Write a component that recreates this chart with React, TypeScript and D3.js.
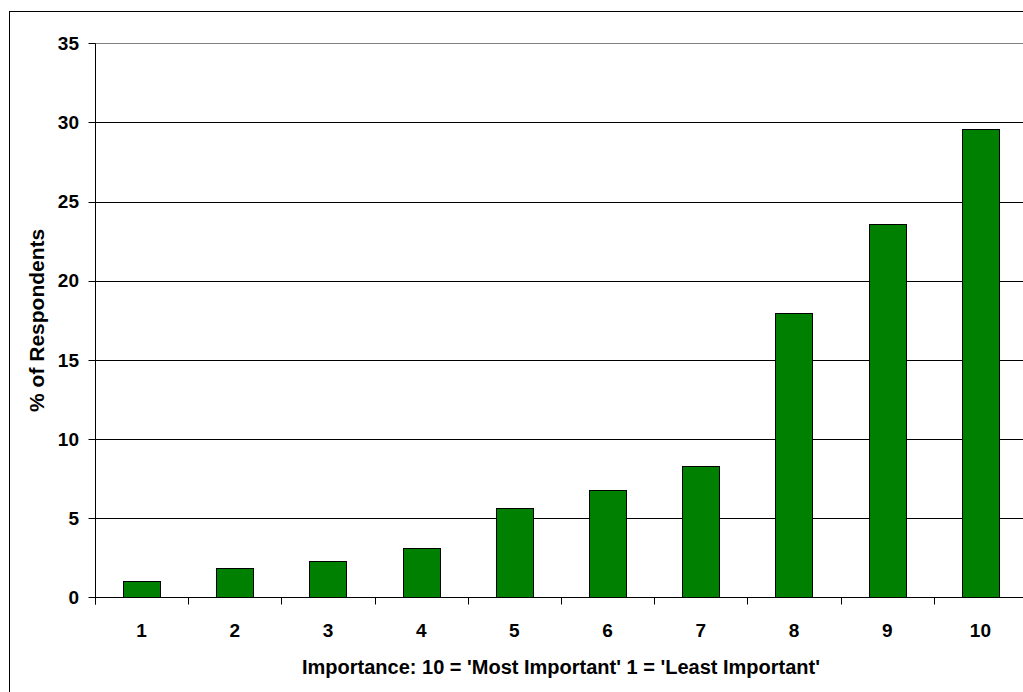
import React from "react";
import * as d3 from "d3";

// Survey importance ratings (1 = least important, 10 = most important)
const categories: string[] = ["1", "2", "3", "4", "5", "6", "7", "8", "9", "10"];
const percentRespondents: number[] = [1.05, 1.83, 2.29, 3.13, 5.64, 6.78, 8.31, 17.94, 23.56, 29.56];
const yTickValues: number[] = [0, 5, 10, 15, 20, 25, 30, 35];

const yAxisTitle = "% of Respondents";
const xAxisTitle = "Importance: 10 = 'Most Important' 1 = 'Least Important'";

const WIDTH = 1023;
const HEIGHT = 692;
const FONT = "'Liberation Sans', Arial, Helvetica, sans-serif";

export default function App() {
  const plotLeft = 95;
  const plotRight = 1027;
  const plotTop = 43.3;
  const plotBottom = 597.3;

  const x = d3
    .scaleBand<string>()
    .domain(categories)
    .range([plotLeft, plotRight])
    .paddingInner(0.6)
    .paddingOuter(0.3);

  const y = d3.scaleLinear().domain([0, 35]).range([plotBottom, plotTop]);

  const step = x.step();
  const snap = (v: number) => Math.round(v) + 0.5;

  // category boundaries for the x-axis tick marks
  const boundaries = d3.range(categories.length + 1).map((i) => plotLeft + i * step);

  const axisY = snap(y(0));
  const axisX = snap(plotLeft);

  return (
    <svg
      width={WIDTH}
      height={HEIGHT}
      style={{ position: "absolute", left: 0, top: 0, background: "#fff" }}
      fontFamily={FONT}
    >
      {/* chart area border */}
      <rect x={9.5} y={11.5} width={WIDTH + 20} height={HEIGHT + 20} fill="#fff" stroke="#000" strokeWidth={1} />

      {/* horizontal gridlines */}
      {yTickValues.map((v) =>
        v === 0 ? null : (
          <line
            key={`g${v}`}
            x1={plotLeft}
            x2={WIDTH}
            y1={snap(y(v))}
            y2={snap(y(v))}
            stroke={v === 35 ? "#808080" : "#000"}
            strokeWidth={1}
          />
        )
      )}

      {/* bars */}
      {categories.map((c, i) => {
        const top = y(percentRespondents[i]);
        return (
          <rect
            key={`b${c}`}
            x={Math.round(x(c) as number) + 0.5}
            y={Math.round(top) + 0.5}
            width={Math.round(x.bandwidth())}
            height={Math.round(y(0)) - Math.round(top)}
            fill="#008000"
            stroke="#000"
            strokeWidth={1}
          />
        );
      })}

      {/* y axis */}
      <line x1={axisX} x2={axisX} y1={snap(plotTop)} y2={axisY + 7} stroke="#000" strokeWidth={1} />
      {yTickValues.map((v) => (
        <g key={`yt${v}`}>
          <line x1={axisX - 7} x2={axisX} y1={snap(y(v))} y2={snap(y(v))} stroke="#000" strokeWidth={1} />
          <text
            x={79}
            y={y(v)}
            dy="0.35em"
            textAnchor="end"
            fontSize={19}
            fontWeight="bold"
            fill="#000"
          >
            {v}
          </text>
        </g>
      ))}

      {/* x axis */}
      <line x1={plotLeft} x2={WIDTH} y1={axisY} y2={axisY} stroke="#000" strokeWidth={1} />
      {boundaries.map((b, i) => (
        <line key={`xt${i}`} x1={snap(b)} x2={snap(b)} y1={axisY} y2={axisY + 7} stroke="#000" strokeWidth={1} />
      ))}
      {categories.map((c) => (
        <text
          key={`xl${c}`}
          x={(x(c) as number) + x.bandwidth() / 2}
          y={637}
          textAnchor="middle"
          fontSize={19}
          fontWeight="bold"
          fill="#000"
        >
          {c}
        </text>
      ))}

      {/* axis titles */}
      <text
        transform={`translate(44, ${(plotTop + plotBottom) / 2 + 0}) rotate(-90)`}
        textAnchor="middle"
        fontSize={21}
        fontWeight="bold"
        fill="#000"
      >
        {yAxisTitle}
      </text>
      <text
        x={(plotLeft + plotRight) / 2}
        y={674}
        textAnchor="middle"
        fontSize={20}
        fontWeight="bold"
        fill="#000"
      >
        {xAxisTitle}
      </text>
    </svg>
  );
}
